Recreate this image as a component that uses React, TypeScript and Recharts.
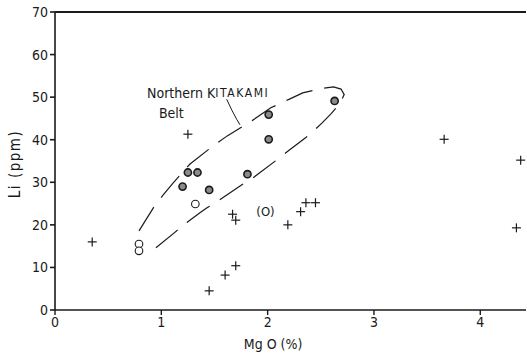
import { ScatterChart, Scatter, XAxis, YAxis, ReferenceDot } from 'recharts';

// plus markers (other samples)
const plusPoints = [
    { x: 0.35, y: 16.0 }, { x: 1.25, y: 41.3 }, { x: 1.67, y: 22.5 }, { x: 1.70, y: 21.1 },
    { x: 1.70, y: 10.4 }, { x: 1.60, y: 8.2 }, { x: 1.45, y: 4.5 }, { x: 2.19, y: 20.0 },
    { x: 2.31, y: 23.1 }, { x: 2.36, y: 25.2 }, { x: 2.45, y: 25.2 }, { x: 3.66, y: 40.1 },
    { x: 4.38, y: 35.2 }, { x: 4.34, y: 19.3 },
];

// shaded circles (Northern Kitakami Belt)
const filledPoints = [
    { x: 1.20, y: 29.0 }, { x: 1.25, y: 32.3 }, { x: 1.34, y: 32.3 }, { x: 1.45, y: 28.2 },
    { x: 1.81, y: 31.9 }, { x: 2.01, y: 45.9 }, { x: 2.01, y: 40.1 }, { x: 2.63, y: 49.1 },
];

const openPoints = [{ x: 0.79, y: 15.5 }, { x: 0.79, y: 13.9 }, { x: 1.32, y: 24.9 }];
const bracketPoints = [{ x: 1.98, y: 23.1 }];

// dashed outline of the belt field
const beltOutline = [
    { x: 0.79, y: 18.6 }, { x: 0.93, y: 24.2 }, { x: 1.01, y: 26.8 }, { x: 1.11, y: 29.8 },
    { x: 1.27, y: 34.3 }, { x: 1.5, y: 38.8 }, { x: 1.62, y: 40.9 }, { x: 1.86, y: 44.6 },
    { x: 2.03, y: 47.5 }, { x: 2.21, y: 49.6 }, { x: 2.33, y: 51.0 }, { x: 2.5, y: 52.0 },
    { x: 2.62, y: 52.4 }, { x: 2.69, y: 51.9 }, { x: 2.72, y: 50.6 }, { x: 2.68, y: 48.5 },
    { x: 2.60, y: 46.2 }, { x: 2.51, y: 43.9 }, { x: 2.4, y: 41.3 }, { x: 2.18, y: 37.1 },
    { x: 2.11, y: 35.7 }, { x: 1.87, y: 31.2 }, { x: 1.77, y: 29.6 }, { x: 1.52, y: 25.4 },
    { x: 1.43, y: 24.0 }, { x: 1.36, y: 22.8 }, { x: 1.21, y: 20.0 }, { x: 1.13, y: 18.3 },
    { x: 0.89, y: 13.4 },
];

const leader = [{ x: 1.615, y: 49.5 }, { x: 1.662, y: 47.0 }, { x: 1.709, y: 44.8 }, { x: 1.74, y: 43.5 }];

const xTicks = [0, 1, 2, 3, 4];
const yTicks = [0, 10, 20, 30, 40, 50, 60, 70];

const FONT = '"Liberation Sans Narrow", "DejaVu Sans Condensed", "Liberation Sans", sans-serif';
const INK = '#1a1a1a';

const Plus = ({ cx, cy }: any) => (
    <g stroke={INK} strokeWidth={1.2}>
        <line x1={cx - 4.5} y1={cy} x2={cx + 4.5} y2={cy} />
        <line x1={cx} y1={cy - 4.5} x2={cx} y2={cy + 4.5} />
    </g>
);

const Filled = ({ cx, cy }: any) => <circle cx={cx} cy={cy} r={3.6} fill="#8a8a8a" stroke={INK} strokeWidth={1.6} />;
const Open = ({ cx, cy }: any) => <circle cx={cx} cy={cy} r={3.8} fill="#fff" stroke={INK} strokeWidth={1.1} />;
const Bracket = ({ cx, cy }: any) => (
    <text x={cx} y={cy} textAnchor="middle" dominantBaseline="central" fontFamily={FONT} fontSize={13} fill={INK}>
        (O)
    </text>
);
const Nothing = () => <g />;

export default function App() {
    return (
        <div style={{ position: 'absolute', left: 0, top: 0, width: 527, height: 357, background: '#fff' }}>
            <ScatterChart width={527} height={357} margin={{ top: 12, right: 1, bottom: 27, left: 0 }}>
                <XAxis
                    type="number"
                    dataKey="x"
                    domain={[0, 4.43]}
                    ticks={xTicks}
                    allowDataOverflow
                    height={20}
                    stroke={INK}
                    strokeWidth={1.4}
                    tickSize={5}
                    tickMargin={2}
                    tick={{ fill: INK, fontSize: 14, fontFamily: FONT }}
                    label={({ viewBox }: any) => (
                        <text
                            x={viewBox.x + viewBox.width * 0.463}
                            y={344}
                            textAnchor="middle"
                            dominantBaseline="central"
                            fontFamily={FONT}
                            fontSize={14}
                            fill={INK}
                        >
                            Mg O (%)
                        </text>
                    )}
                />
                <YAxis
                    type="number"
                    dataKey="y"
                    domain={[0, 70]}
                    ticks={yTicks}
                    width={55}
                    stroke={INK}
                    strokeWidth={1.6}
                    tickSize={5}
                    tickMargin={2}
                    tick={{ fill: INK, fontSize: 14, fontFamily: FONT }}
                    label={({ viewBox }: any) => (
                        <text
                            x={15}
                            y={viewBox.y + viewBox.height * 0.51}
                            transform={`rotate(-90 15 ${viewBox.y + viewBox.height * 0.51})`}
                            textAnchor="middle"
                            dominantBaseline="central"
                            fontFamily={FONT}
                            fontSize={15}
                            letterSpacing={1.5}
                            fill={INK}
                        >
                            Li (ppm)
                        </text>
                    )}
                />
                <Scatter
                    data={beltOutline}
                    shape={Nothing}
                    line={{ stroke: INK, strokeWidth: 1.2, strokeDasharray: '28 12' }}
                    lineType="joint"
                    isAnimationActive={false}
                />
                <Scatter
                    data={leader}
                    shape={Nothing}
                    line={{ stroke: INK, strokeWidth: 1 }}
                    lineType="joint"
                    isAnimationActive={false}
                />
                <Scatter data={plusPoints} shape={Plus} isAnimationActive={false} />
                <Scatter data={filledPoints} shape={Filled} isAnimationActive={false} />
                <Scatter data={openPoints} shape={Open} isAnimationActive={false} />
                <Scatter data={bracketPoints} shape={Bracket} isAnimationActive={false} />
                <ReferenceDot
                    x={0.866}
                    y={51.0}
                    r={0}
                    shape={({ cx, cy }: any) => (
                        <text x={cx} y={cy} dominantBaseline="central" fontFamily={FONT} fontSize={14} fill={INK}>
                            Northern{'  '}
                            <tspan>K</tspan>
                            <tspan fontSize={12} letterSpacing={1.6}>ITAKAMI</tspan>
                        </text>
                    )}
                />
                <ReferenceDot
                    x={0.978}
                    y={46.3}
                    r={0}
                    shape={({ cx, cy }: any) => (
                        <text x={cx} y={cy} dominantBaseline="central" fontFamily={FONT} fontSize={14} fill={INK}>
                            Belt
                        </text>
                    )}
                />
            </ScatterChart>
            {/* top frame line of the plot box */}
            <div
                style={{
                    position: 'absolute',
                    left: 55,
                    top: 11,
                    width: 471,
                    height: 0,
                    borderTop: `2px solid ${INK}`,
                    pointerEvents: 'none',
                }}
            />
        </div>
    );
}
